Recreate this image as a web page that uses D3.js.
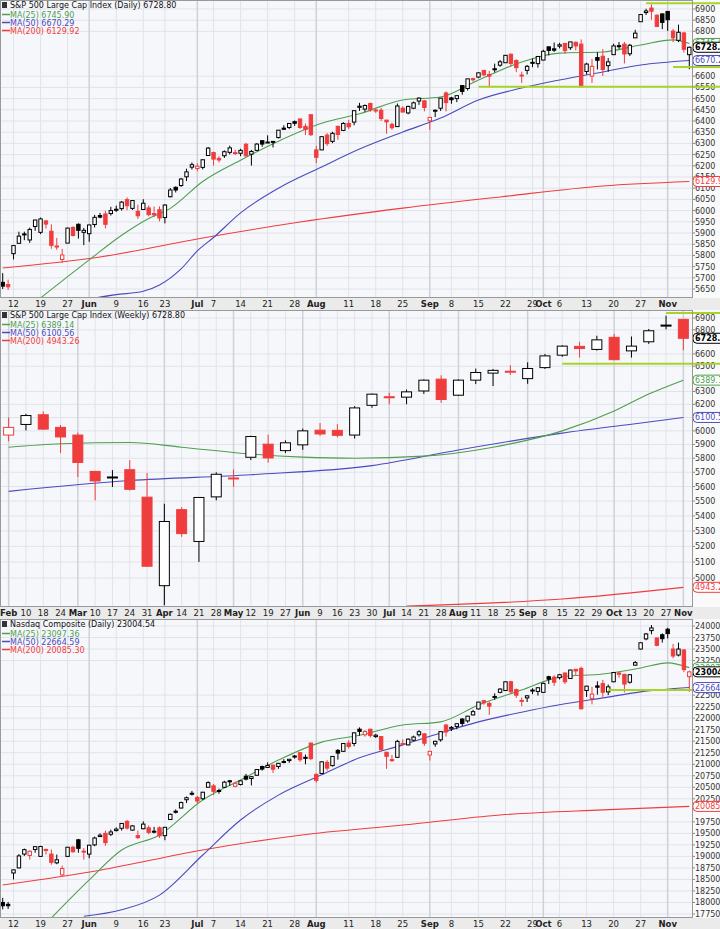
<!DOCTYPE html>
<html>
<head>
<meta charset="utf-8">
<title>S&P 500 / Nasdaq candlesticks</title>
<script src="https://cdn.jsdelivr.net/npm/d3@7"></script>
<style>
  body { margin: 0; background: #fff; }
  text { font-family: "DejaVu Sans", Verdana, sans-serif; }
</style>
</head>
<body>
<script>
// ---- daily dates (May 8 - Nov 7) ----
var dailyDates = ["05-08","05-09","05-12","05-13","05-14","05-15","05-16","05-19","05-20","05-21","05-22","05-23","05-27","05-28","05-29","05-30",
"06-02","06-03","06-04","06-05","06-06","06-09","06-10","06-11","06-12","06-13","06-16","06-17","06-18","06-20","06-23","06-24","06-25","06-26","06-27","06-30",
"07-01","07-02","07-03","07-07","07-08","07-09","07-10","07-11","07-14","07-15","07-16","07-17","07-18","07-21","07-22","07-23","07-24","07-25","07-28","07-29","07-30","07-31",
"08-01","08-04","08-05","08-06","08-07","08-08","08-11","08-12","08-13","08-14","08-15","08-18","08-19","08-20","08-21","08-22","08-25","08-26","08-27","08-28","08-29",
"09-02","09-03","09-04","09-05","09-08","09-09","09-10","09-11","09-12","09-15","09-16","09-17","09-18","09-19","09-22","09-23","09-24","09-25","09-26","09-29","09-30",
"10-01","10-02","10-03","10-06","10-07","10-08","10-09","10-10","10-13","10-14","10-15","10-16","10-17","10-20","10-21","10-22","10-23","10-24","10-27","10-28","10-29","10-30","10-31",
"11-03","11-04","11-05","11-06","11-07"];

var dailyTickDates  = ["05-12","05-19","05-27","06-02","06-09","06-16","06-23","07-01","07-07","07-14","07-21","07-28","08-01","08-11","08-18","08-25","09-02","09-08","09-15","09-22","09-29","10-01","10-06","10-13","10-20","10-27","11-03"];
var dailyTickLabels = ["12","19","27","Jun","9","16","23","Jul","7","14","21","28","Aug","11","18","25","Sep","8","15","22","29","Oct","6","13","20","27","Nov"];

// ---- S&P 500 daily ----
var spxOpen  = [5680,5670,5808,5854,5896,5869,5929,5903,5954,5908,5841,5782,5855,5925,5939,5903,5897,5938,5978,5985,5987,6004,6009,6049,6010,5997,6005,6012,5987,6004,5969,6062,6104,6112,6151,6194,6188,6193,6246,6259,6233,6245,6260,6255,6256,6296,6252,6269,6312,6304,6307,6326,6368,6371,6397,6409,6376,6428,6271,6271,6337,6309,6376,6358,6389,6395,6461,6453,6478,6445,6448,6404,6385,6375,6457,6436,6457,6489,6490,6401,6445,6457,6525,6503,6500,6558,6545,6589,6596,6626,6608,6633,6649,6660,6698,6670,6604,6626,6662,6656,6672,6731,6722,6734,6746,6727,6751,6743,6621,6600,6683,6689,6647,6696,6736,6743,6700,6771,6843,6884,6904,6872,6878,6889,6801,6760,6793,6696];
var spxHigh  = [5721,5692,5845,5906,5906,5924,5959,5969,5958,5939,5878,5829,5924,5930,5943,5923,5937,5981,5990,5999,6017,6022,6043,6059,6046,6026,6051,6023,6018,6019,6028,6101,6108,6146,6187,6215,6211,6228,6284,6263,6243,6269,6290,6272,6276,6303,6271,6301,6315,6336,6310,6359,6381,6390,6402,6410,6389,6428,6288,6331,6346,6352,6379,6395,6405,6446,6481,6474,6482,6455,6459,6404,6393,6478,6466,6468,6487,6506,6493,6416,6451,6502,6532,6508,6513,6560,6588,6593,6616,6627,6624,6656,6672,6695,6701,6675,6620,6650,6679,6689,6718,6731,6750,6749,6747,6753,6755,6764,6660,6677,6707,6721,6681,6745,6752,6753,6744,6807,6876,6901,6920,6876,6880,6889,6811,6830,6798,6732];
var spxLow   = [5650,5646,5782,5854,5868,5856,5910,5895,5920,5830,5825,5767,5855,5885,5875,5846,5861,5925,5966,5921,5978,5994,6000,6002,6003,5963,6004,5974,5971,5952,5943,6059,6081,6106,6132,6183,6176,6184,6246,6201,6215,6235,6251,6248,6243,6243,6201,6266,6285,6303,6282,6322,6361,6364,6378,6365,6337,6333,6212,6271,6289,6301,6316,6355,6364,6381,6445,6441,6441,6436,6400,6343,6361,6375,6438,6430,6453,6472,6443,6360,6418,6445,6443,6477,6484,6517,6536,6575,6591,6600,6551,6617,6642,6660,6643,6618,6570,6608,6640,6638,6671,6693,6708,6724,6699,6717,6715,6550,6608,6570,6630,6601,6620,6696,6722,6657,6690,6771,6843,6873,6852,6820,6810,6802,6752,6752,6705,6631];
var spxClose = [5663,5660,5844,5886,5892,5916,5958,5963,5940,5845,5842,5802,5922,5889,5912,5912,5936,5970,5971,5939,6000,6006,6038,6022,6045,5977,6033,5982,5981,5967,6025,6092,6092,6141,6173,6205,6198,6227,6279,6230,6226,6263,6280,6259,6269,6244,6264,6297,6297,6306,6309,6359,6363,6389,6390,6371,6362,6339,6238,6330,6299,6345,6340,6389,6374,6446,6466,6469,6450,6449,6411,6396,6370,6467,6440,6465,6481,6502,6460,6416,6448,6502,6482,6495,6513,6532,6588,6584,6615,6606,6600,6632,6664,6693,6657,6638,6605,6644,6661,6688,6711,6715,6716,6740,6714,6753,6735,6553,6654,6644,6671,6630,6664,6735,6735,6699,6738,6792,6875,6891,6890,6822,6840,6852,6771,6796,6720,6729];
var spxPrevClose = 5631;

var spxMa25  = [[7,5610],[16,5780],[22,5890],[27,5965],[31,6010],[37,6130],[44,6225],[51,6310],[59,6390],[66,6432],[74,6494],[81,6507],[88,6583],[96,6663],[103,6703],[111,6708],[118,6739],[124,6762],[127,6746]];
var spxMa50  = [[17,5610],[21,5625],[26,5640],[29,5668],[33,5740],[36,5820],[39,5880],[44,5990],[51,6100],[59,6195],[66,6275],[74,6351],[81,6413],[88,6494],[96,6547],[103,6583],[111,6619],[118,6650],[127,6670]];
var spxMa200 = [[0,5744],[18,5793],[37,5878],[55,5949],[74,6011],[92,6061],[111,6110],[127,6130]];

// ---- Nasdaq daily ----
var ndxOpen  = [18000,17960,18640,18750,19050,19020,19150,19000,19150,19050,18860,18600,19000,19200,19360,19100,19050,19250,19430,19500,19480,19560,19610,19760,19570,19450,19600,19620,19530,19620,19450,19800,19980,20050,20230,20350,20280,20250,20500,20530,20430,20500,20640,20520,20560,20740,20690,20760,20950,20930,20980,20950,21060,21080,21170,21250,21150,21460,20780,20800,21040,20970,21300,21280,21460,21450,21760,21640,21760,21600,21600,21260,21100,21150,21450,21420,21520,21640,21660,21200,21440,21530,21850,21770,21820,21980,21940,22070,22200,22380,22320,22450,22560,22600,22790,22620,22380,22440,22610,22580,22560,22900,22890,22880,22980,22860,23060,23080,22600,22430,22700,22750,22570,22790,22980,22950,22780,23150,23500,23720,23900,23740,23810,23930,23500,23370,23480,22900];
var ndxHigh  = [18100,18010,18710,19050,19170,19130,19220,19230,19170,19150,19040,18800,19200,19230,19380,19180,19250,19430,19500,19560,19580,19630,19720,19790,19680,19560,19760,19670,19640,19650,19640,19930,20020,20190,20300,20420,20310,20400,20630,20570,20470,20640,20660,20620,20650,20790,20740,20890,20970,21040,20990,21030,21110,21110,21200,21260,21210,21460,20800,21060,21090,21180,21330,21460,21520,21690,21800,21740,21770,21660,21600,21270,21200,21530,21540,21560,21620,21740,21670,21280,21510,21710,21880,21830,21880,22000,22050,22180,22350,22390,22360,22540,22650,22800,22810,22640,22450,22500,22650,22670,22770,22920,22930,22960,22990,23050,23070,23120,22700,22680,22800,22830,22730,23000,23010,22960,22950,23240,23640,23850,24020,23750,23840,23960,23610,23640,23500,23030];
var ndxLow   = [17850,17860,18500,18740,19010,18930,19080,18990,19040,18820,18830,18560,18990,19080,19080,18930,18960,19220,19420,19230,19440,19540,19560,19580,19560,19380,19590,19480,19500,19400,19350,19790,19930,20040,20160,20320,20150,20230,20500,20330,20360,20490,20530,20500,20540,20650,20540,20750,20860,20930,20810,20900,21020,21030,21120,21050,21000,21090,20600,20790,20860,20950,21100,21270,21340,21390,21620,21600,21580,21570,21280,20900,21050,21140,21430,21410,21500,21600,21400,21080,21380,21490,21600,21720,21760,21830,21900,22060,22190,22290,22070,22400,22540,22600,22530,22440,22260,22350,22520,22490,22550,22740,22700,22840,22740,22850,22930,22190,22460,22300,22510,22460,22500,22780,22880,22560,22750,23140,23490,23690,23820,23560,23640,23730,23300,23340,23000,22570];
var ndxClose = [17928,17929,18708,19010,19146,19112,19211,19215,19143,18872,18926,18737,19199,19101,19175,19114,19243,19399,19460,19298,19530,19591,19715,19615,19662,19407,19701,19521,19546,19447,19631,19913,19973,20168,20273,20370,20202,20393,20601,20412,20418,20611,20630,20586,20640,20677,20730,20885,20896,20974,20892,21020,21057,21108,21178,21098,21130,21122,20650,21053,20916,21169,21242,21450,21385,21682,21713,21710,21622,21630,21315,21172,21100,21496,21449,21544,21590,21705,21456,21280,21497,21708,21700,21799,21879,21886,22043,22141,22349,22333,22261,22471,22631,22789,22574,22498,22385,22485,22592,22660,22755,22845,22780,22942,22789,23044,23025,22204,22695,22522,22671,22563,22680,22991,22954,22740,22942,23205,23637,23827,23958,23581,23725,23835,23349,23500,23054,23005];
var ndxPrevClose = 17738;

var ndxMa25  = [[7,17420],[16,18490],[22,19140],[29,19465],[37,20224],[44,20660],[51,21090],[59,21480],[66,21630],[74,21850],[81,21920],[88,22285],[96,22610],[103,22890],[111,22960],[118,23090],[123,23200],[127,23097]];
var ndxMa50  = [[15,17700],[22,17840],[29,18160],[37,19030],[44,19790],[51,20330],[59,20770],[66,21140],[74,21420],[81,21680],[88,21920],[96,22130],[103,22290],[111,22440],[118,22570],[127,22664]];
var ndxMa200 = [[0,18380],[18,18700],[37,19140],[55,19460],[74,19680],[92,19900],[111,20010],[127,20085]];

// ---- S&P 500 weekly (Feb 3 - Nov 3) ----
var weekLabels = ["Feb","10","18","24","Mar","10","17","24","31","Apr","14","21","28","May","12","19","27","Jun","9","16","23","30","Jul","14","21","28","Aug","11","18","25","Sep","8","15","22","29","Oct","13","20","27","Nov"];
var wkOpen  = [5969,6048,6121,6026,5969,5706,5664,5718,5527,4953,5442,5232,5529,5655,5807,5902,5855,5897,6005,6004,5969,6193,6259,6256,6304,6397,6271,6389,6445,6457,6401,6489,6590,6662,6637,6737,6625,6700,6840,6889];
var wkHigh  = [6101,6128,6147,6044,5987,5710,5715,5786,5695,5482,5459,5528,5700,5720,5964,5973,5930,6017,6059,6050,6187,6284,6290,6315,6395,6428,6395,6481,6478,6509,6532,6600,6672,6700,6750,6764,6744,6807,6920,6889];
var wkLow   = [5923,6003,6008,5837,5666,5505,5597,5572,5069,4835,5262,5101,5505,5598,5787,5768,5837,5861,5963,5952,5943,6174,6201,6201,6281,6212,6265,6358,6343,6430,6360,6478,6576,6570,6627,6550,6570,6683,6804,6631];
var wkClose = [6026,6115,6013,5955,5770,5639,5667,5581,5074,5363,5283,5525,5686,5660,5958,5802,5912,6000,5977,5967,6173,6279,6259,6297,6389,6238,6389,6450,6467,6460,6482,6584,6664,6644,6716,6553,6664,6792,6840,6729];
var wkPrevClose = 6040;

var wkMa25  = [[0,5880],[3,5905],[7,5914],[10,5880],[14,5830],[17,5808],[20,5800],[24,5815],[28,5880],[32,6000],[35,6150],[37,6280],[39,6389]];
var wkMa50  = [[0,5567],[7,5642],[14,5683],[21,5747],[26,5860],[32,5983],[36,6050],[39,6100]];
var wkMa200 = [[23,4830],[32,4872],[39,4943]];

var C_GREEN = "#4f9f4f", C_BLUE = "#4b4bbd", C_RED = "#ef3d3d", C_HL = "#a8d42a";
var W = 720, PW = 692;

var svg = d3.select("body").append("svg").attr("width", W).attr("height", 929);

function makeCandles(o, h, l, c, prev) {
  return c.map(function(v, i) {
    var pc = i === 0 ? prev : c[i - 1];
    return { i: i, o: o[i], h: h[i], l: l[i], c: v, up: v >= pc, hollow: v > o[i] };
  });
}

function drawPanel(p) {
  var g = svg.append("g");
  var top = p.top, bot = p.top + p.h;
  var y = p.y, x = p.x;
  var cx = function(i) { return x(i) + x.bandwidth() / 2; };

  g.append("rect").attr("x", 0).attr("y", top).attr("width", PW).attr("height", p.h).attr("fill", "#f6f7fb");
  g.append("rect").attr("x", PW).attr("y", top).attr("width", W - PW).attr("height", p.h).attr("fill", "#fafafa");

  // horizontal grid + y labels
  p.yTicks.forEach(function(t) {
    g.append("line").attr("x1", 0).attr("x2", PW).attr("y1", y(t)).attr("y2", y(t)).attr("stroke", "#e1e3ea").attr("stroke-width", 1);
    g.append("line").attr("x1", PW).attr("x2", PW + 3).attr("y1", y(t)).attr("y2", y(t)).attr("stroke", "#888");
    g.append("text").attr("x", PW + 3).attr("y", y(t) + 3).attr("font-size", 8).attr("fill", "#333").text(t);
  });

  // vertical grid + x labels
  g.append("rect").attr("x", 0).attr("y", bot).attr("width", W).attr("height", p.band).attr("fill", "#ebebeb");
  p.xTicks.forEach(function(t, k) {
    var isMonth = isNaN(+p.xLabels[k]);
    g.append("line").attr("x1", cx(t)).attr("x2", cx(t)).attr("y1", top).attr("y2", bot)
      .attr("stroke", isMonth ? "#cfd1d8" : "#e1e3ea").attr("stroke-width", isMonth ? 1.5 : 1);
    g.append("text").attr("x", cx(t)).attr("y", bot + 9).attr("text-anchor", "middle").attr("font-size", 8.5)
      .attr("font-weight", isMonth ? "bold" : "normal").attr("fill", "#222").text(p.xLabels[k]);
  });

  // MA lines
  var line = d3.line().x(function(d) { return cx(d[0]); }).y(function(d) { return y(d[1]); }).curve(d3.curveMonotoneX);
  var clipId = "clip" + top;
  svg.append("clipPath").attr("id", clipId).append("rect").attr("x", 0).attr("y", top).attr("width", PW).attr("height", p.h);
  var inner = g.append("g").attr("clip-path", "url(#" + clipId + ")");
  p.mas.forEach(function(m) {
    inner.append("path").datum(m.data).attr("d", line).attr("fill", "none").attr("stroke", m.color).attr("stroke-width", 1.1);
  });

  // candles
  var cg = inner.selectAll("g.c").data(p.candles).enter().append("g");
  cg.append("line").attr("x1", function(d) { return cx(d.i); }).attr("x2", function(d) { return cx(d.i); })
    .attr("y1", function(d) { return y(d.h); }).attr("y2", function(d) { return y(d.l); })
    .attr("stroke", function(d) { return d.up ? "#000" : C_RED; }).attr("stroke-width", 1);
  cg.append("rect")
    .attr("x", function(d) { return cx(d.i) - p.bw / 2; })
    .attr("y", function(d) { return y(Math.max(d.o, d.c)); })
    .attr("width", p.bw)
    .attr("height", function(d) { return Math.max(1, Math.abs(y(d.o) - y(d.c))); })
    .attr("fill", function(d) { return d.hollow ? "#fff" : (d.up ? "#000" : C_RED); })
    .attr("stroke", function(d) { return d.up ? "#000" : C_RED; }).attr("stroke-width", 1);

  // horizontal annotation lines
  p.hlines.forEach(function(hl) {
    g.append("line").attr("x1", cx(hl[0])).attr("x2", W).attr("y1", y(hl[1])).attr("y2", y(hl[1]))
      .attr("stroke", C_HL).attr("stroke-width", 2);
  });

  // right-side value boxes
  p.boxes.forEach(function(b) {
    var yy = y(b.v);
    g.append("rect").attr("x", PW + 1).attr("y", yy - 5).attr("width", 40).attr("height", 10).attr("rx", 4)
      .attr("fill", "#fff").attr("stroke", b.color).attr("stroke-width", 1);
    g.append("text").attr("x", PW + 3).attr("y", yy + 3).attr("font-size", 8).attr("font-weight", b.bold ? "bold" : "normal")
      .attr("fill", b.bold ? "#000" : b.color).text(b.text);
  });

  // title and legend
  g.append("rect").attr("x", 2).attr("y", top + 2).attr("width", 5).attr("height", 6).attr("fill", "#333");
  g.append("text").attr("x", 10).attr("y", top + 8).attr("font-size", 8).attr("fill", "#111").text(p.title);
  p.legend.forEach(function(lg, k) {
    var ly = top + 14.5 + k * 8;
    g.append("line").attr("x1", 2).attr("x2", 10).attr("y1", ly).attr("y2", ly).attr("stroke", lg.color).attr("stroke-width", 1.5);
    g.append("text").attr("x", 10).attr("y", ly + 3).attr("font-size", 8).attr("fill", lg.color).text(lg.text);
  });

  g.append("rect").attr("x", 0.5).attr("y", top + 0.5).attr("width", PW).attr("height", p.h - 1)
    .attr("fill", "none").attr("stroke", "#999");
}

var xDaily = d3.scaleBand().domain(d3.range(dailyDates.length)).range([0, PW]).padding(0);
var dailyTicks = dailyTickDates.map(function(d) { return dailyDates.indexOf(d); });
var xWeek = d3.scaleBand().domain(d3.range(weekLabels.length)).range([0, PW]).padding(0);

// Panel 1: S&P daily
drawPanel({
  top: 0, h: 298, band: 12, x: xDaily, bw: 3.4,
  y: d3.scaleLinear().domain([5610, 6940]).range([298, 0]),
  yTicks: d3.range(5650, 6901, 50).filter(function(v) { return [6650, 6700, 6750].indexOf(v) < 0; }),
  xTicks: dailyTicks, xLabels: dailyTickLabels,
  candles: makeCandles(spxOpen, spxHigh, spxLow, spxClose, spxPrevClose),
  mas: [{ data: spxMa200, color: C_RED }, { data: spxMa50, color: C_BLUE }, { data: spxMa25, color: C_GREEN }],
  hlines: [[88, 6553], [119, 6925], [124, 6641]],
  boxes: [{ v: 6746, text: "6745.90", color: C_GREEN }, { v: 6670, text: "6670.29", color: C_BLUE },
          { v: 6130, text: "6129.92", color: C_RED }, { v: 6729, text: "6728.80", color: "#000", bold: true }],
  title: "S&P 500 Large Cap Index (Daily) 6728.80",
  legend: [{ text: "MA(25) 6745.90", color: C_GREEN }, { text: "MA(50) 6670.29", color: C_BLUE }, { text: "MA(200) 6129.92", color: C_RED }]
});

// Panel 2: S&P weekly (log scale)
drawPanel({
  top: 310, h: 297, band: 12, x: xWeek, bw: 10,
  y: d3.scaleLog().domain([4824, 6969]).range([607, 310]),
  yTicks: d3.range(4900, 6901, 100).filter(function(v) { return [4900, 6400, 6700].indexOf(v) < 0; }),
  xTicks: d3.range(weekLabels.length), xLabels: weekLabels,
  candles: makeCandles(wkOpen, wkHigh, wkLow, wkClose, wkPrevClose),
  mas: [{ data: wkMa200, color: C_RED }, { data: wkMa50, color: C_BLUE }, { data: wkMa25, color: C_GREEN }],
  hlines: [[32, 6520], [38, 6943]],
  boxes: [{ v: 6389, text: "6389.14", color: C_GREEN }, { v: 6100.56, text: "6100.56", color: C_BLUE },
          { v: 4943, text: "4943.26", color: C_RED }, { v: 6729, text: "6728.80", color: "#000", bold: true }],
  title: "S&P 500 Large Cap Index (Weekly) 6728.80",
  legend: [{ text: "MA(25) 6389.14", color: C_GREEN }, { text: "MA(50) 6100.56", color: C_BLUE }, { text: "MA(200) 4943.26", color: C_RED }]
});

// Panel 3: Nasdaq daily
drawPanel({
  top: 619, h: 299, band: 11, x: xDaily, bw: 3.4,
  y: d3.scaleLinear().domain([17663, 24152]).range([918, 619]),
  yTicks: d3.range(17750, 24001, 250).filter(function(v) { return [22750, 23000, 20000].indexOf(v) < 0; }),
  xTicks: dailyTicks, xLabels: dailyTickLabels,
  candles: makeCandles(ndxOpen, ndxHigh, ndxLow, ndxClose, ndxPrevClose),
  mas: [{ data: ndxMa200, color: C_RED }, { data: ndxMa50, color: C_BLUE }, { data: ndxMa25, color: C_GREEN }],
  hlines: [[112, 22610]],
  boxes: [{ v: 23097, text: "23097.36", color: C_GREEN }, { v: 22664, text: "22664.59", color: C_BLUE },
          { v: 20085, text: "20085.30", color: C_RED }, { v: 23005, text: "23004.54", color: "#000", bold: true }],
  title: "Nasdaq Composite (Daily) 23004.54",
  legend: [{ text: "MA(25) 23097.36", color: C_GREEN }, { text: "MA(50) 22664.59", color: C_BLUE }, { text: "MA(200) 20085.30", color: C_RED }]
});
</script>
</body>
</html>
